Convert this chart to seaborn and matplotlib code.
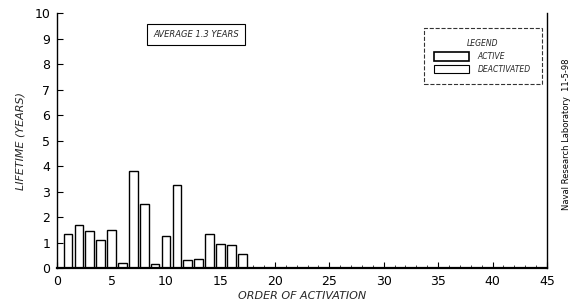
import matplotlib
matplotlib.use("Agg")
import matplotlib.pyplot as plt
import seaborn as sns
import pandas as pd
from matplotlib.patches import Patch

order = list(range(1, 18))
lifetime = [1.35, 1.7, 1.45, 1.1, 1.5, 0.2, 3.8, 2.5, 0.15, 1.25, 3.25, 0.3, 0.35, 1.35, 0.95, 0.9, 0.55]
x_ticks = [0, 5, 10, 15, 20, 25, 30, 35, 40, 45]
y_ticks = list(range(0, 11))

sns.set_theme(style="white")
plt.rcParams['font.family'] = ['DejaVu Sans']

df = pd.DataFrame({"order": order, "lifetime": lifetime})

fig = plt.figure(figsize=(5.77, 3.05), dpi=100)
ax = fig.add_axes([0.099, 0.121, 0.849, 0.836])

sns.barplot(data=df, x="order", y="lifetime", ax=ax, native_scale=True,
            color="white", edgecolor="black", linewidth=1.0, width=0.8, saturation=1)

ax.set_xlim(0, 45)
ax.set_ylim(0, 10)
ax.set_xticks(x_ticks)
ax.set_xticks(range(0, 46), minor=True)
ax.set_yticks(y_ticks)
ax.tick_params(axis="both", which="major", direction="in", length=4, width=0.8,
               labelsize=9, colors="black", pad=5)
ax.tick_params(axis="x", which="minor", direction="in", length=2, width=0.6, bottom=True)
ax.tick_params(left=True, bottom=True)
for s in ["left", "bottom", "right"]:
    ax.spines[s].set_color("black")
    ax.spines[s].set_linewidth(1.0)
ax.spines["bottom"].set_linewidth(1.6)
ax.spines["top"].set_visible(False)

ax.set_xlabel("ORDER OF ACTIVATION", fontsize=8, style="italic", labelpad=2)
ax.set_ylabel("LIFETIME (YEARS)", fontsize=8, style="italic", labelpad=6)

ax.text(12.75, 9.15, "AVERAGE 1.3 YEARS", fontsize=6, style="italic", ha="center", va="center",
        bbox=dict(boxstyle="square,pad=0.7", fc="white", ec="black", lw=0.8))

handles = [Patch(facecolor="white", edgecolor="black", linewidth=1.2, label="ACTIVE"),
           Patch(facecolor="white", edgecolor="black", linewidth=0.8, label="DEACTIVATED")]
leg = ax.legend(handles=handles, title="LEGEND", loc="upper right",
                bbox_to_anchor=(0.997, 0.955), fontsize=5.5, title_fontsize=5.5,
                frameon=True, fancybox=False, edgecolor="black", handlelength=4.5,
                handleheight=1.3, handletextpad=1.2, borderpad=1.4, labelspacing=0.5)
for t in leg.get_texts():
    t.set_fontstyle("italic")
leg.get_title().set_fontstyle("italic")
leg.get_frame().set_linestyle("--")
leg.get_frame().set_linewidth(0.8)

fig.text(0.981, 0.56, "Naval Research Laboratory  11-5-98", rotation=90, fontsize=6,
         ha="center", va="center", color="black")

fig.savefig("out.png", dpi=100)
